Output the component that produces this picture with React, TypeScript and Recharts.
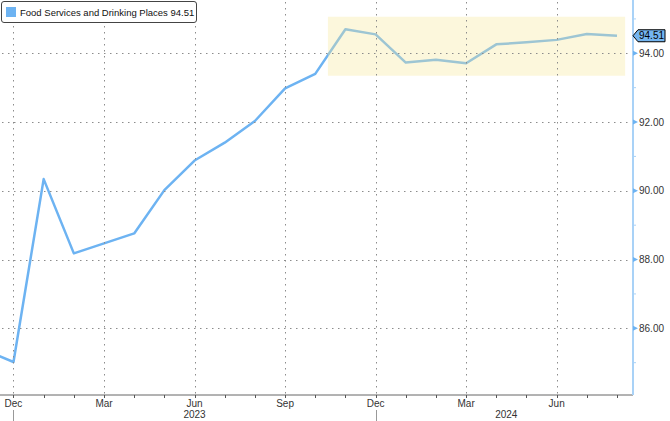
import React from 'react';
import {
  LineChart,
  Line,
  XAxis,
  YAxis,
  ReferenceArea
} from 'recharts';

// month index: 0 = Dec 2022 (Nov 2022 sits just left of the visible range)
const months = ['Nov', 'Dec', 'Jan', 'Feb', 'Mar', 'Apr', 'May', 'Jun', 'Jul', 'Aug', 'Sep', 'Oct', 'Nov', 'Dec', 'Jan', 'Feb', 'Mar', 'Apr', 'May', 'Jun', 'Jul', 'Aug'];
const monthIndex = [-1, 0, 1, 2, 3, 4, 5, 6, 7, 8, 9, 10, 11, 12, 13, 14, 15, 16, 17, 18, 19, 20];
const values = [85.38, 85.02, 90.34, 88.18, 88.47, 88.76, 90.02, 90.88, 91.4, 92.03, 92.98, 93.4, 94.7, 94.55, 93.73, 93.81, 93.71, 94.26, 94.32, 94.39, 94.56, 94.51];

const quarterLabels = ['Dec', 'Mar', 'Jun', 'Sep'];
const quarterIndex = [0, 3, 6, 9, 12, 15, 18];
const yearLabels = ['2023', '2024'];
const yearLabelPos = [6, 16.33];

const majorTicks = [86, 88, 90, 92, 94];
const minorTicks = [85, 87, 89, 91, 93, 95];

const seriesName = 'Food Services and Drinking Places';
const lastValue = values[values.length - 1];

// highlighted box (mid Oct 2023 -> Aug 2024)
const boxX = [10.42, 20.27];
const boxY = [93.35, 95.06];

const data = monthIndex.map((t, i) => ({ t, label: months[i], value: values[i] }));

const W = 670;
const H = 421;
const AXIS_W = 37;
const AXIS_H = 26;
const PLOT_W = W - AXIS_W;
const PLOT_H = H - AXIS_H;

const FONT = '"Liberation Sans", Arial, sans-serif';
const LINE = '#6db3f2';
const GRID = '#8c8c8c';

// dotted line as a run of short segments
function dotsH(x0: number, x1: number, y: number, step = 6) {
  let d = '';
  for (let x = x0; x < x1; x += step) d += `M${x} ${y}h1.5`;
  return d;
}
function dotsV(x: number, y0: number, y1: number, step = 6) {
  let d = '';
  for (let y = y0; y < y1; y += step) d += `M${x} ${y}v1.5`;
  return d;
}

function XTick(props: any) {
  const { x, y, payload } = props;
  const v = payload.value as number;
  const yi = yearLabelPos.indexOf(v);
  if (!Number.isInteger(v)) {
    return (
      <text x={x} y={y + 23} textAnchor="middle" fontSize={10} fill="#333" fontFamily={FONT}>
        {yearLabels[yi]}
      </text>
    );
  }
  const entry = data.find((d) => d.t === v);
  const lab = entry ? entry.label : '';
  const isQuarter = quarterIndex.includes(v);
  const gx = Math.round(x) + 0.5;
  return (
    <g>
      {isQuarter && <path d={dotsV(gx, y - PLOT_H + 2, y - 1)} stroke={GRID} strokeWidth={1} fill="none" />}
      <line x1={gx} x2={gx} y1={y} y2={y + 3} stroke="#555" />
      {isQuarter && quarterLabels.includes(lab) && (
        <text x={x} y={y + 12} textAnchor="middle" fontSize={10} fill="#333" fontFamily={FONT}>
          {lab}
        </text>
      )}
      {lab === 'Dec' && <line x1={gx} x2={gx} y1={y + 15} y2={y + 26} stroke="#999" />}
      {yi >= 0 && (
        <text x={x} y={y + 23} textAnchor="middle" fontSize={10} fill="#333" fontFamily={FONT}>
          {yearLabels[yi]}
        </text>
      )}
    </g>
  );
}

function YTick(props: any) {
  const { x, y, payload } = props;
  const v = payload.value as number;
  if (v === lastValue) {
    return (
      <g>
        <polygon
          points={`${x},${y} ${x + 5},${y - 6} ${x + 32},${y - 6} ${x + 32},${y + 6} ${x + 5},${y + 6}`}
          fill="#74b5f0"
          stroke="#000"
          strokeWidth={1}
        />
        <text x={x + 18.5} y={y + 3.5} textAnchor="middle" fontSize={10} fill="#000" fontFamily={FONT}>
          {v.toFixed(2)}
        </text>
      </g>
    );
  }
  if (majorTicks.includes(v)) {
    const gy = Math.round(y) + 0.5;
    return (
      <g>
        <path d={dotsH(x - PLOT_W + 2, x - 3, gy)} stroke={GRID} strokeWidth={1} fill="none" />
        <polygon points={`${x},${y - 2.5} ${x + 5},${y} ${x},${y + 2.5}`} fill={LINE} />
        <text x={x + 6} y={y + 3.5} textAnchor="start" fontSize={10} fill="#333" fontFamily={FONT}>
          {v.toFixed(2)}
        </text>
      </g>
    );
  }
  return <line x1={x} x2={x + 3} y1={y} y2={y} stroke="#a9d2f7" />;
}

export default function App() {
  const xTicks = [...monthIndex.filter((t) => t >= 0), 16.33];
  const yTicks = [...minorTicks, ...majorTicks, lastValue];
  return (
    <div
      style={{
        position: 'absolute',
        left: 0,
        top: 0,
        width: W,
        height: H,
        overflow: 'hidden',
        background: '#fff',
        fontFamily: FONT
      }}
    >
      <LineChart width={W} height={H} data={data} margin={{ top: 0, right: 0, left: 0, bottom: 0 }}>
        <XAxis
          dataKey="t"
          type="number"
          domain={[-0.447, 20.53]}
          allowDataOverflow
          ticks={xTicks}
          interval={0}
          height={AXIS_H}
          tickSize={0}
          tickMargin={0}
          tickLine={false}
          axisLine={{ stroke: '#666' }}
          tick={<XTick />}
        />
        <YAxis
          orientation="right"
          type="number"
          domain={[84.06, 95.55]}
          allowDataOverflow
          ticks={yTicks}
          interval={0}
          width={AXIS_W}
          tickSize={0}
          tickMargin={0}
          tickLine={false}
          axisLine={{ stroke: '#a9d2f7', strokeWidth: 2 }}
          tick={<YTick />}
        />
        <Line
          type="linear"
          dataKey="value"
          stroke={LINE}
          strokeWidth={2.5}
          strokeLinejoin="round"
          dot={false}
          activeDot={false}
          isAnimationActive={false}
        />
        <ReferenceArea
          x1={boxX[0]}
          x2={boxX[1]}
          y1={boxY[0]}
          y2={boxY[1]}
          fill="#f7e89a"
          fillOpacity={0.35}
          stroke="none"
          ifOverflow="visible"
          zIndex={1000}
        />
      </LineChart>
      <div
        style={{
          position: 'absolute',
          left: 1,
          top: 1,
          width: 194,
          height: 20,
          border: '1px solid #444',
          borderRadius: 3,
          background: '#fff',
          display: 'flex',
          alignItems: 'center',
          fontSize: 9.5,
          color: '#111',
          whiteSpace: 'nowrap'
        }}
      >
        <span
          style={{
            display: 'inline-block',
            flexShrink: 0,
            width: 10,
            height: 10,
            background: LINE,
            marginLeft: 4,
            marginRight: 4
          }}
        />
        <span>
          {seriesName} {lastValue.toFixed(2)}
        </span>
      </div>
    </div>
  );
}
